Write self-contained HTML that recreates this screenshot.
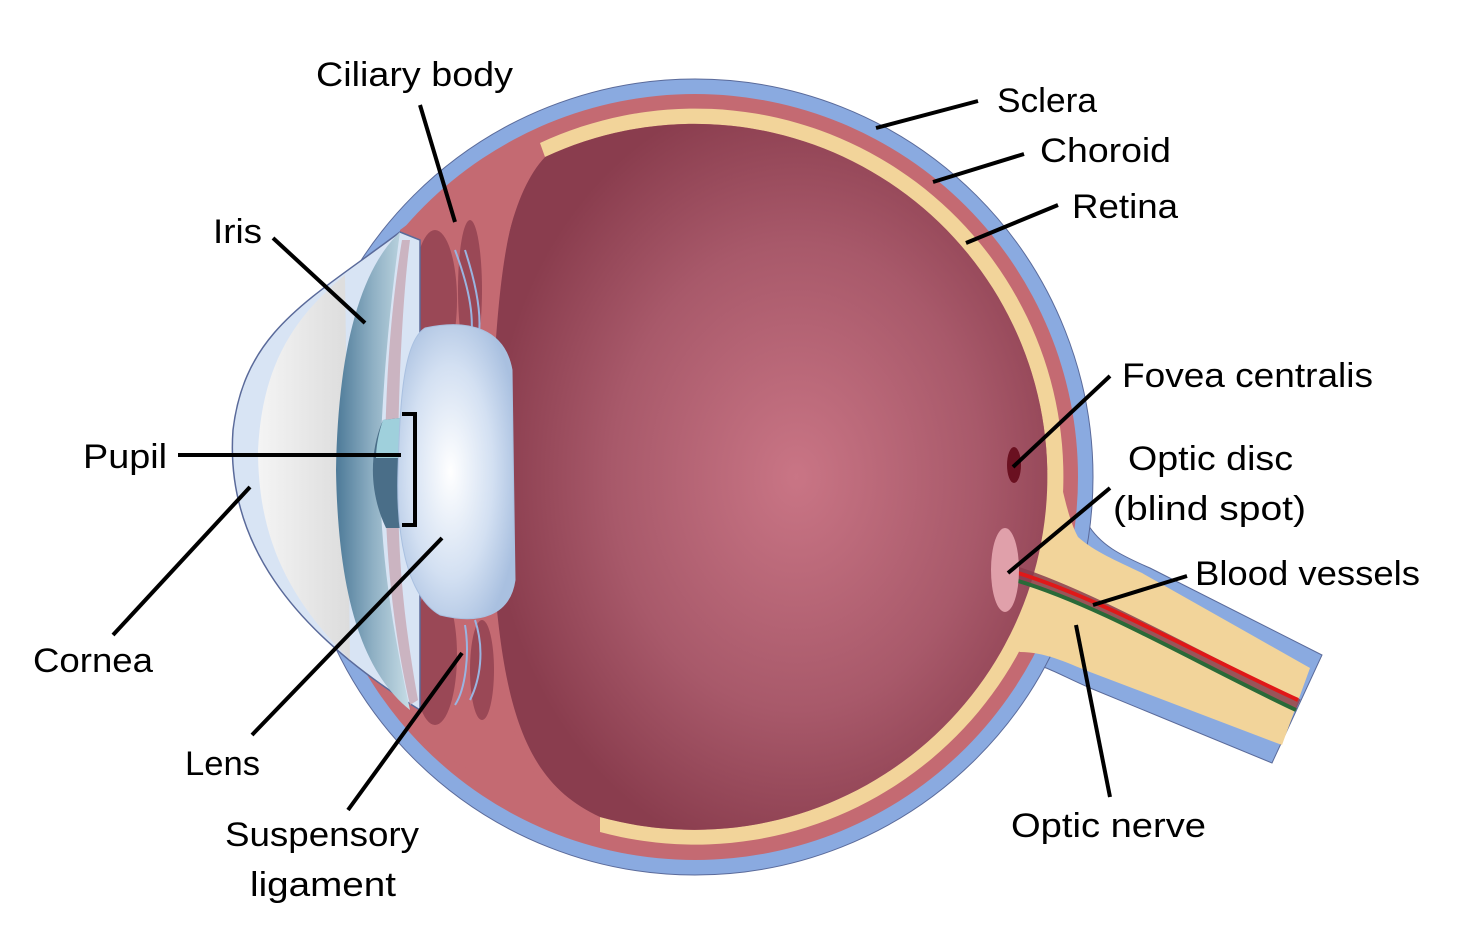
<!DOCTYPE html>
<html><head><meta charset="utf-8"><style>
html,body{margin:0;padding:0;background:#fff;}
svg{display:block}
text{font-family:"Liberation Sans",sans-serif;font-size:34px;fill:#000}
</style></head><body>
<svg width="1463" height="949" viewBox="0 0 1463 949" xmlns="http://www.w3.org/2000/svg">
<defs>
<radialGradient id="vit" cx="0.55" cy="0.5" r="0.55">
<stop offset="0" stop-color="#c97585"/><stop offset="0.6" stop-color="#a8596a"/><stop offset="1" stop-color="#8a3d4e"/>
</radialGradient>
<radialGradient id="lens" cx="0.45" cy="0.5" r="0.6">
<stop offset="0" stop-color="#ffffff"/><stop offset="0.6" stop-color="#d3e0f2"/><stop offset="1" stop-color="#a9c0e0"/>
</radialGradient>
<linearGradient id="iris" x1="0" x2="1" y1="0" y2="0">
<stop offset="0" stop-color="#4d7a98"/><stop offset="0.5" stop-color="#8fb0c4"/><stop offset="1" stop-color="#c7dde6"/>
</linearGradient>
<linearGradient id="cor" x1="0" x2="1">
<stop offset="0" stop-color="#f4f4f4"/><stop offset="1" stop-color="#dcdcdc"/>
</linearGradient>
</defs>
<!-- optic nerve outer -->
<path d="M1075,470 L1087,523 C1100,545 1120,555 1150,568 L1322,655 L1272,763 L1090,688 C1060,675 1045,665 1027,663 L990,640 Z" fill="#8aaae0" stroke="#5a6a9a" stroke-width="1"/>
<!-- eyeball layers -->
<circle cx="695" cy="477" r="398" fill="#8aaae0" stroke="#5a6a9a" stroke-width="1"/>
<circle cx="695" cy="477" r="383" fill="#c46a72"/>
<path d="M540,143 A368,368 0 1 1 600,832 L600,817 A353,353 0 1 0 545,157 Z" fill="#f2d49a"/>
<!-- nerve inner yellow + flare -->
<path d="M1058,470 C1066,505 1070,522 1078,537 C1095,552 1115,560 1142,573 L1310,668 L1282,745 L1090,672 C1065,662 1045,652 1020,652 L995,640 L995,470 Z" fill="#f2d49a"/>
<path d="M545,157 A353,353 0 1 1 600,817 C520,780 495,700 490,480 C495,260 510,190 545,157 Z" fill="url(#vit)"/>
<!-- vessels -->
<path d="M1015,572 C1100,600 1200,660 1298,705" stroke="#8a3d4e" stroke-width="12" fill="none" opacity="0.85"/>
<path d="M1015,572 C1100,598 1200,655 1298,700" stroke="#e01818" stroke-width="4" fill="none"/>
<path d="M1015,580 C1100,605 1200,665 1296,710" stroke="#2a6a38" stroke-width="4" fill="none"/>
<!-- ciliary region -->
<path d="M400,230 C440,200 500,170 545,157 C505,200 490,300 485,480 C490,660 505,760 560,800 C500,790 440,760 400,720 Z" fill="#c46a72"/>
<ellipse cx="435" cy="300" rx="22" ry="70" fill="#9a4856"/>
<ellipse cx="470" cy="290" rx="12" ry="70" fill="#9a4856"/>
<ellipse cx="435" cy="655" rx="22" ry="70" fill="#9a4856"/>
<ellipse cx="482" cy="670" rx="12" ry="50" fill="#9a4856"/>
<path d="M455,250 C470,290 475,320 470,345 M465,250 C478,290 482,320 478,340 M475,620 C485,650 480,680 470,700 M465,625 C470,655 465,690 455,705" stroke="#9ab4e0" stroke-width="2" fill="none"/>
<!-- cornea -->
<path d="M400,232 C310,300 245,330 233,430 C225,540 290,630 420,710 L420,240 Z" fill="#d8e4f4" stroke="#5a6a9a" stroke-width="1.5"/>
<path d="M345,275 C290,320 262,370 258,450 C258,540 290,600 350,660 Z" fill="url(#cor)"/>
<!-- iris band -->
<path d="M400,232 C360,270 338,350 336,470 C338,590 360,670 410,710 C395,640 380,560 380,470 C382,380 392,290 400,232 Z" fill="url(#iris)"/>
<path d="M402,240 C392,300 385,380 385,470 C385,560 395,640 410,705 L418,700 C400,600 398,540 398,470 C398,400 402,300 410,240 Z" fill="#c8a8b4" opacity="0.8"/>
<!-- pupil rim -->
<path d="M383,420 C370,450 368,490 386,528 L400,528 L400,418 Z" fill="#4a6e88"/>
<path d="M383,420 C378,435 376,448 376,458 L400,458 L400,418 Z" fill="#9fd0dc"/>
<!-- lens -->
<path d="M425,328 C470,318 505,330 512,370 L515,580 C510,615 480,625 440,615 C405,595 396,530 398,470 C400,410 402,342 425,328 Z" fill="url(#lens)" stroke="#a9c0e0" stroke-width="1"/>
<!-- fovea & disc -->
<ellipse cx="1014" cy="465" rx="7" ry="18" fill="#6a1020"/>
<ellipse cx="1005" cy="570" rx="14" ry="42" fill="#e0a0aa"/>
<!-- leader lines -->
<g stroke="#000" stroke-width="4" fill="none">
<line x1="420" y1="105" x2="455" y2="222"/>
<line x1="978" y1="101" x2="876" y2="128"/>
<line x1="1024" y1="154" x2="933" y2="182"/>
<line x1="1058" y1="205" x2="966" y2="243"/>
<line x1="273" y1="238" x2="365" y2="323"/>
<line x1="1110" y1="376" x2="1013" y2="467"/>
<line x1="1110" y1="488" x2="1008" y2="573"/>
<line x1="178" y1="455" x2="401" y2="455"/>
<polyline points="402,414 415,414 415,525 402,525"/>
<line x1="1187" y1="576" x2="1093" y2="605"/>
<line x1="113" y1="635" x2="250" y2="487"/>
<line x1="252" y1="735" x2="442" y2="538"/>
<line x1="348" y1="810" x2="462" y2="653"/>
<line x1="1110" y1="797" x2="1076" y2="625"/>
</g>
<text x="316" y="86" textLength="197" lengthAdjust="spacingAndGlyphs">Ciliary body</text>
<text x="997" y="112" textLength="100" lengthAdjust="spacingAndGlyphs">Sclera</text>
<text x="1040" y="162" textLength="131" lengthAdjust="spacingAndGlyphs">Choroid</text>
<text x="1072" y="218" textLength="106" lengthAdjust="spacingAndGlyphs">Retina</text>
<text x="213" y="243" textLength="49" lengthAdjust="spacingAndGlyphs">Iris</text>
<text x="1122" y="387" textLength="251" lengthAdjust="spacingAndGlyphs">Fovea centralis</text>
<text x="1128" y="470" textLength="165" lengthAdjust="spacingAndGlyphs">Optic disc</text>
<text x="1113" y="520" textLength="193" lengthAdjust="spacingAndGlyphs">(blind spot)</text>
<text x="83" y="468" textLength="84" lengthAdjust="spacingAndGlyphs">Pupil</text>
<text x="1195" y="585" textLength="225" lengthAdjust="spacingAndGlyphs">Blood vessels</text>
<text x="33" y="672" textLength="120" lengthAdjust="spacingAndGlyphs">Cornea</text>
<text x="185" y="775" textLength="75" lengthAdjust="spacingAndGlyphs">Lens</text>
<text x="225" y="846" textLength="194" lengthAdjust="spacingAndGlyphs">Suspensory</text>
<text x="250" y="896" textLength="146" lengthAdjust="spacingAndGlyphs">ligament</text>
<text x="1011" y="837" textLength="195" lengthAdjust="spacingAndGlyphs">Optic nerve</text>
</svg>
</body></html>
